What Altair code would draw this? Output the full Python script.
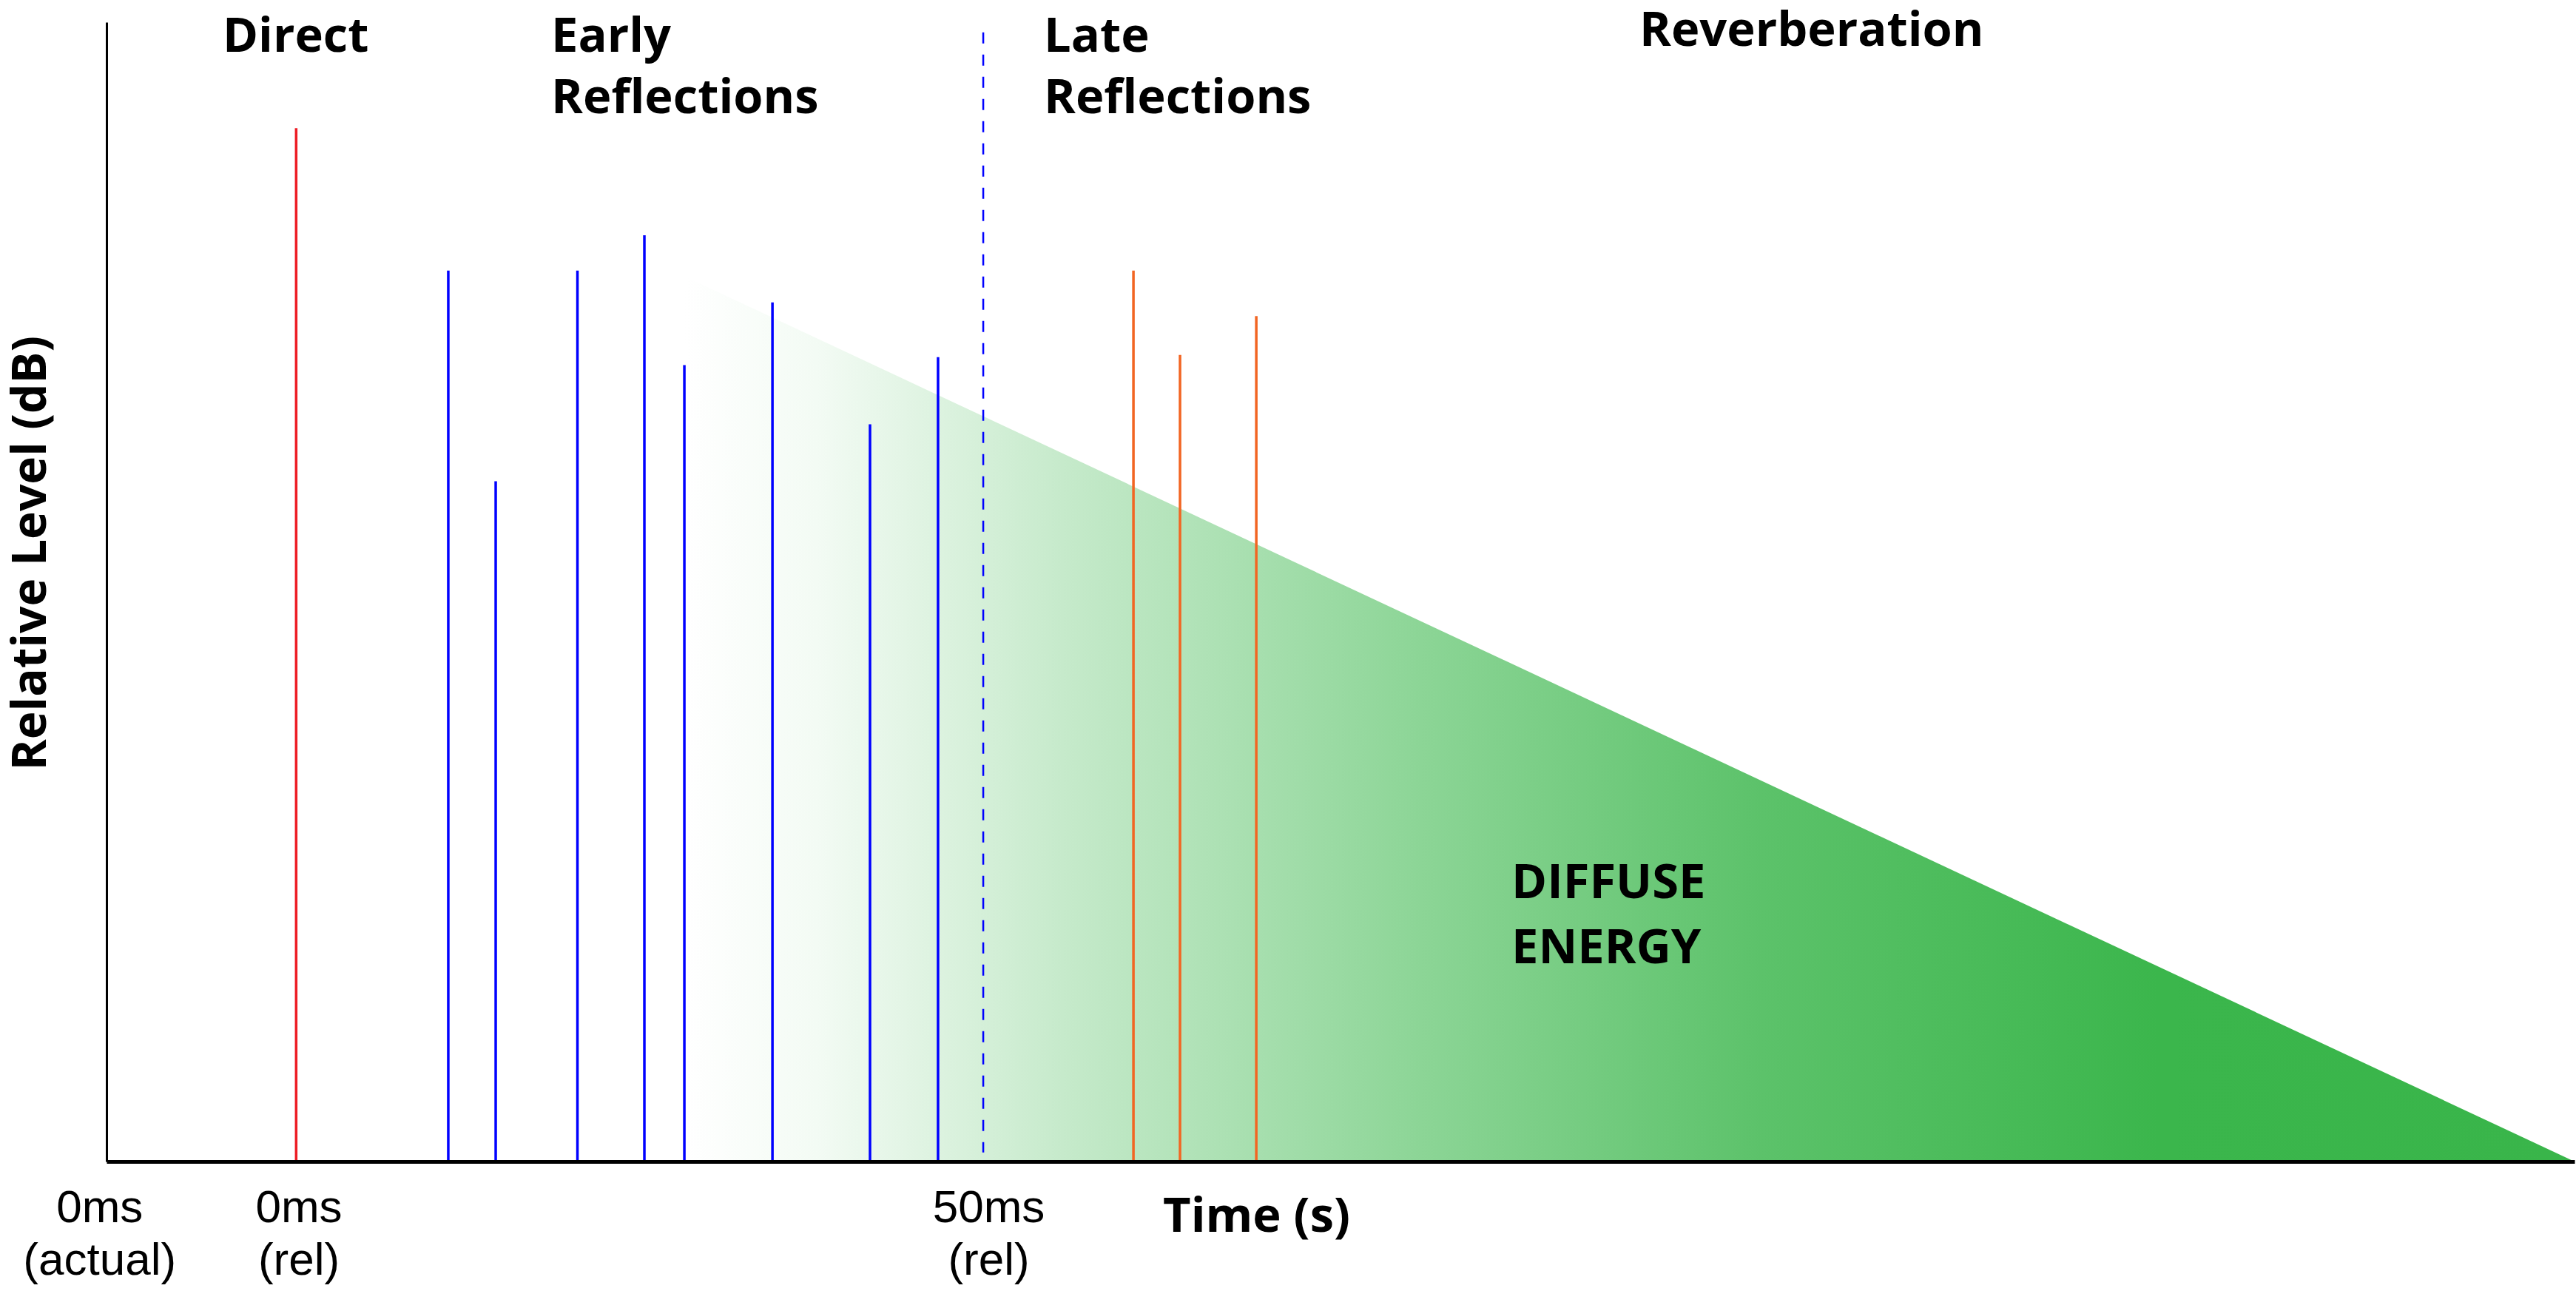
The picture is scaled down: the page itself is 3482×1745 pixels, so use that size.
import altair as alt
import pandas as pd

# ---------------- data (time in ms relative to direct sound, level in relative units) ----------------
x_domain = [-13.8, 165.8]
y_domain = [0, 100]

direct_time = [0.0]
direct_level = [90.7]

early_time = [11.07, 14.52, 20.47, 25.34, 28.25, 34.66, 41.76, 46.71]
early_level = [78.2, 59.7, 78.2, 81.3, 69.9, 75.4, 64.7, 70.6]

late_time = [60.93, 64.32, 69.87]
late_level = [78.2, 70.8, 74.2]

boundary_time = [50.0]
boundary_top = [99.1]
boundary_bottom = [0.8]

diffuse_time = [28.25, 165.8]
diffuse_level = [77.7, 0.0]

section_labels = ["Direct", "Early\nReflections", "Late\nReflections", "Reverberation"]
section_time = [-5.35, 18.56, 54.41, 97.75]
section_level = [97.40, 97.40, 97.40, 97.92]

diffuse_label = ["DIFFUSE\nENERGY"]
diffuse_label_time = [88.44]
diffuse_label_level = [23.12]

tick_labels = ["0ms\n(actual)", "0ms\n(rel)", "50ms\n(rel)"]
tick_time = [-14.3, 0.2, 50.4]
tick_level = [-5.32, -5.32, -5.32]

x_title = ["Time (s)"]
x_title_time = [63.08]
x_title_level = [-6.17]

y_title = ["Relative Level (dB)"]
y_title_time = [-18.2]
y_title_level = [53.4]

# ---------------- chart ----------------
xs = alt.Scale(domain=x_domain, nice=False, zero=False)
ys = alt.Scale(domain=y_domain, nice=False)
x_axis = alt.Axis(domain=True, domainColor="black", domainWidth=5, ticks=False,
                  labels=False, grid=False, title=None, zindex=2)
y_axis = alt.Axis(domain=True, domainColor="black", domainWidth=3, ticks=False,
                  labels=False, grid=False, title=None, zindex=2)
X = alt.X("t:Q", scale=xs, axis=x_axis)
Y = alt.Y("L:Q", scale=ys, axis=y_axis)

def df(t, L, **extra):
    d = {"t": t, "L": L}
    d.update(extra)
    return pd.DataFrame(d)

gradient = alt.Gradient(
    gradient="linear",
    stops=[
        alt.GradientStop(color="#FFFFFF", offset=0.0),
        alt.GradientStop(color="#F3FBF4", offset=0.07),
        alt.GradientStop(color="#C6EACB", offset=0.2),
        alt.GradientStop(color="#8CD596", offset=0.39),
        alt.GradientStop(color="#5CC26A", offset=0.57),
        alt.GradientStop(color="#3BB64C", offset=0.78),
        alt.GradientStop(color="#39B54A", offset=1.0),
    ],
    x1=0, x2=1, y1=0, y2=0,
)

area = alt.Chart(df(diffuse_time, diffuse_level)).mark_area(color=gradient).encode(x=X, y=Y)

def rules(t, L, color, width):
    return alt.Chart(df(t, L)).mark_rule(color=color, strokeWidth=width).encode(
        x=X, y=Y, y2=alt.datum(0)
    )

direct = rules(direct_time, direct_level, "#ED1C24", 3.5)
early = rules(early_time, early_level, "#0000FF", 3.5)
late = rules(late_time, late_level, "#F26522", 3.5)

boundary = alt.Chart(df(boundary_time, boundary_top, b=boundary_bottom)).mark_rule(
    color="#0000FF", strokeWidth=2.5, strokeDash=[15, 15]
).encode(x=X, y=Y, y2="b:Q")

bold = dict(font="Open Sans", fontWeight="bold", fontSize=65, color="black")

sections = alt.Chart(df(section_time, section_level, label=section_labels)).mark_text(
    align="left", baseline="alphabetic", lineBreak="\n", lineHeight=83, **bold
).encode(x=X, y=Y, text="label:N")

diffuse_txt = alt.Chart(df(diffuse_label_time, diffuse_label_level, label=diffuse_label)).mark_text(
    align="left", baseline="alphabetic", lineBreak="\n", lineHeight=88, **bold
).encode(x=X, y=Y, text="label:N")

ticks = alt.Chart(df(tick_time, tick_level, label=tick_labels)).mark_text(
    align="center", baseline="alphabetic", lineBreak="\n", lineHeight=71,
    font="Liberation Sans", fontSize=62, color="black"
).encode(x=X, y=Y, text="label:N")

xt = alt.Chart(df(x_title_time, x_title_level, label=x_title)).mark_text(
    align="left", baseline="alphabetic", **bold
).encode(x=X, y=Y, text="label:N")

yt = alt.Chart(df(y_title_time, y_title_level, label=y_title)).mark_text(
    align="center", baseline="alphabetic", angle=270,
    font="Open Sans", fontWeight="bold", fontSize=64, color="black"
).encode(x=X, y=Y, text="label:N")

chart = alt.layer(
    area, direct, early, late, boundary, sections, diffuse_txt, ticks, xt, yt
).properties(
    width=3336,
    height=1540,
    padding={"left": 144, "top": 30, "right": 2, "bottom": 175},
    autosize=alt.AutoSizeParams(type="none"),
    background="white",
).configure_view(stroke=None).configure_axisX(
    domainWidth=5, domainColor="black"
).configure_axisY(domainWidth=3, domainColor="black")

chart.save("out.html", embed_options={"renderer": "svg", "actions": False})
